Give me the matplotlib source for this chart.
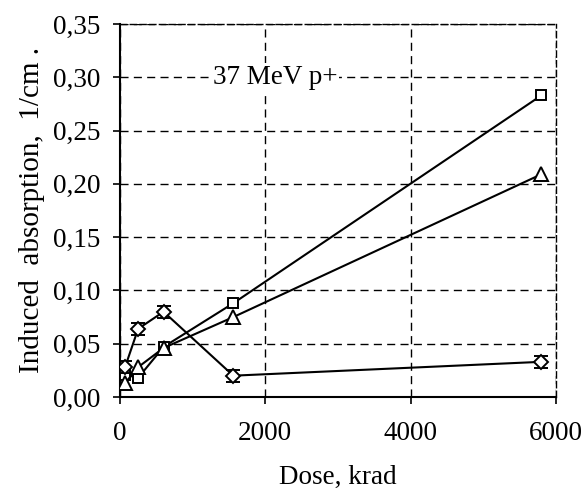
import numpy as np
import matplotlib.pyplot as plt
from matplotlib.ticker import FuncFormatter

# dose (krad) and induced absorption (1/cm)
doza = [70, 250, 600, 1560, 5800]
cuadrados = [0.021, 0.018, 0.047, 0.088, 0.283]
triangulos = [0.013, 0.028, 0.046, 0.075, 0.209]
rombos = [0.028, 0.064, 0.080, 0.020, 0.033]
err_rombos = [0.0055, 0.0055, 0.0055, 0.0055, 0.0055]

plt.rcParams['font.family'] = ['Liberation Serif', 'DejaVu Serif']

fig = plt.figure(figsize=(5.87, 4.95), dpi=100)
ax = fig.add_axes([0.2044, 0.198, 0.7426, 0.7535])

estilo = dict(color='black', lw=1.5, markerfacecolor='white',
              markeredgecolor='black', markeredgewidth=1.4)
ax.plot(doza, cuadrados, marker='s', markersize=7.5, **estilo, zorder=3)
ax.plot(doza, triangulos, marker='^', markersize=9.5, **estilo, zorder=3)
ax.errorbar(doza, rombos, yerr=err_rombos, marker='D', markersize=7.5,
            capsize=5, elinewidth=1.4, capthick=1.4, **estilo, zorder=4)

ax.set_xlim(0, 6000)
ax.set_ylim(0, 0.35)
ax.set_xticks([0, 2000, 4000, 6000])
ax.set_yticks(np.arange(0, 0.351, 0.05))
ax.yaxis.set_major_formatter(FuncFormatter(lambda v, p: ('%.2f' % v).replace('.', ',')))

ax.grid(True, color='black', linestyle=(0, (5.8, 3.8)), linewidth=1.0)
ax.set_axisbelow(True)
for lado in ['top', 'right']:
    ax.spines[lado].set_linestyle((0, (4.5, 2.5)))
    ax.spines[lado].set_linewidth(1.0)
ax.spines['left'].set_linewidth(1.5)
ax.spines['bottom'].set_linewidth(1.5)

ax.tick_params(direction='out', length=5, width=1.2, labelsize=19.5)
ax.tick_params(axis='y', pad=9)
ax.tick_params(axis='x', pad=12)

ax.set_xlabel('Dose, krad', fontsize=19.5, labelpad=14)
ax.set_ylabel('Induced  absorption,  1/cm .', fontsize=21, labelpad=6)

ax.text(1280, 0.30, '37 MeV p+', fontsize=19.5, va='center', ha='left',
        bbox=dict(facecolor='white', edgecolor='none', pad=1), zorder=2)

plt.savefig('out.png')
